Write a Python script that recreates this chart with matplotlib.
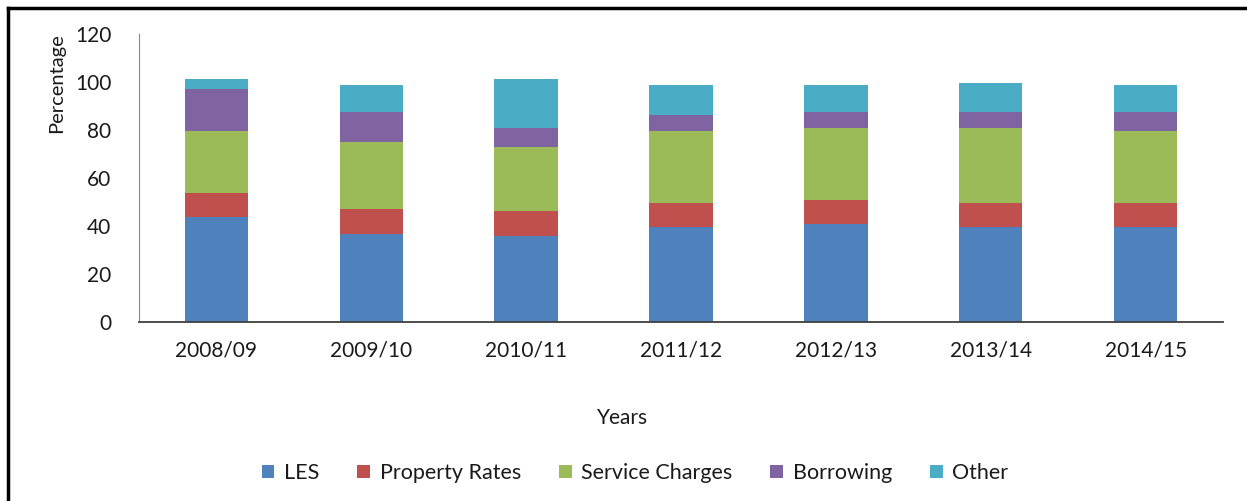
import matplotlib
matplotlib.use("Agg")
import matplotlib.pyplot as plt
from matplotlib.lines import Line2D
from matplotlib.patches import Patch
import numpy as np

years = ["2008/09", "2009/10", "2010/11", "2011/12", "2012/13", "2013/14", "2014/15"]
les = [43.6, 36.5, 35.8, 39.7, 40.7, 39.7, 39.7]
property_rates = [10.3, 10.4, 10.3, 9.7, 10, 10, 10]
service_charges = [25.8, 28.2, 26.9, 30, 30, 31, 30]
borrowing = [17.4, 12.6, 7.8, 6.8, 6.9, 6.9, 7.9]
other = [4.1, 11, 20.3, 12.6, 11.1, 12.1, 11.1]

series = [
    ("LES", les, "#4F81BD"),
    ("Property Rates", property_rates, "#C0504D"),
    ("Service Charges", service_charges, "#9BBB59"),
    ("Borrowing", borrowing, "#8064A2"),
    ("Other", other, "#4BACC6"),
]

plt.rcParams['font.family'] = ['Lato', 'DejaVu Sans']

W, H = 1247, 501
fig = plt.figure(figsize=(W / 100, H / 100), dpi=100)
ax = fig.add_axes([139 / W, (H - 322) / H, (1223 - 139) / W, (322 - 34) / H])

x = np.arange(len(years))
bottom = np.zeros(len(years))
for name, vals, col in series:
    ax.bar(x, vals, 0.41, bottom=bottom, color=col, label=name, zorder=2)
    bottom += np.array(vals)

ax.set_xlim(-0.5, len(years) - 0.5)
ax.set_ylim(0, 120)
ax.set_yticks(range(0, 121, 20))
ax.set_xticks(x)
ax.set_xticklabels(years)
ax.tick_params(axis='both', length=0, labelsize=15, colors='#1a1a1a')
ax.tick_params(axis='y', pad=20)
ax.tick_params(axis='x', pad=13)
for s in ['top', 'right']:
    ax.spines[s].set_visible(False)
ax.spines['left'].set_color('#8a8a8a')
ax.spines['bottom'].set_color('#404040')
ax.spines['bottom'].set_linewidth(1.3)

fig.text(57 / W, 1 - 83 / H, "Percentage", rotation=90, ha='center', va='center', fontsize=14.5, color='#1a1a1a')
fig.text(623 / W, 1 - 418 / H, "Years", ha='center', va='center', fontsize=15, color='#1a1a1a')

handles = [Patch(facecolor=c, edgecolor='none') for _, _, c in series]
labels = [n for n, _, _ in series]
fig.legend(handles, labels, loc='center', bbox_to_anchor=(635 / W, 1 - 473 / H), ncol=5,
           frameon=False, fontsize=15.5, handlelength=0.6, handleheight=0.6,
           handletextpad=0.45, columnspacing=1.75, labelcolor='#1a1a1a')

# outer border (top and left visible)
fig.add_artist(Line2D([8 / W, 8 / W], [0, 1 - 8 / H], transform=fig.transFigure, color='black', lw=2.5))
fig.add_artist(Line2D([8 / W, 1], [1 - 8 / H, 1 - 8 / H], transform=fig.transFigure, color='black', lw=2.5))

fig.savefig("out.png", dpi=100)
